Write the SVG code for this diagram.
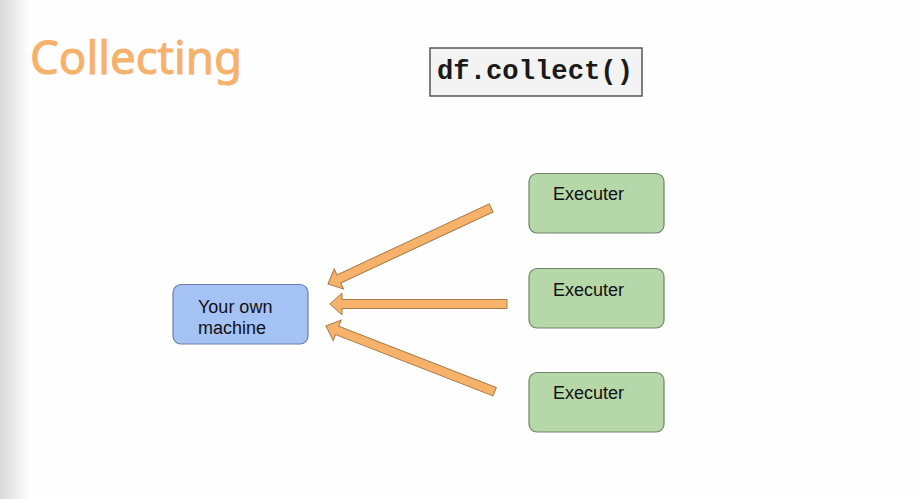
<svg xmlns="http://www.w3.org/2000/svg" width="919" height="499" viewBox="0 0 919 499">
  <defs>
    <linearGradient id="edge" x1="0" y1="0" x2="1" y2="0">
      <stop offset="0" stop-color="#d9d9d9"/>
      <stop offset="1" stop-color="#fefefe"/>
    </linearGradient>
  </defs>
  <style>
    .title { font-family: "Comic Sans MS", "Noto Sans", "DejaVu Sans", sans-serif; font-size: 46px; fill: #f6b26b; stroke: #f6b26b; stroke-width: 1; }
    .code { font-family: "Liberation Mono", "DejaVu Sans Mono", monospace; font-size: 27px; font-weight: bold; fill: #1a1a1a; }
    .label { font-family: "Liberation Sans", Arial, sans-serif; font-size: 18px; fill: #111; }
    .exec { fill: #b6d7a8; stroke: #6f8466; stroke-width: 1.2; }
    .mine { fill: #a4c2f4; stroke: #6b7ea6; stroke-width: 1.2; }
    .arrow { fill: #f6b26b; stroke: #a87a48; stroke-width: 1; stroke-linejoin: miter; }
  </style>
  <rect width="919" height="499" fill="#fefefe"/>
  <rect x="0" y="0" width="30" height="499" fill="url(#edge)"/>

  <g id="title">
    <text class="title" x="30" y="74" textLength="212" lengthAdjust="spacingAndGlyphs">Collecting</text>
  </g>

  <g id="code">
    <rect x="430" y="48" width="212" height="48" fill="#f3f3f3" stroke="#555" stroke-width="1.5"/>
    <text class="code" x="437" y="79" textLength="196" lengthAdjust="spacingAndGlyphs">df.collect()</text>
  </g>

  <g id="machine">
    <rect class="mine" x="173" y="284.5" width="135" height="59.5" rx="8"/>
    <text class="label" x="198" y="313">Your own</text>
    <text class="label" x="198" y="334">machine</text>
  </g>

  <g id="executer1">
    <rect class="exec" x="529" y="173.5" width="135" height="59.5" rx="8"/>
    <text class="label" x="553" y="200">Executer</text>
  </g>
  <g id="executer2">
    <rect class="exec" x="529" y="268.5" width="135" height="59.5" rx="8"/>
    <text class="label" x="553" y="296">Executer</text>
  </g>
  <g id="executer3">
    <rect class="exec" x="529" y="372.5" width="135" height="59.5" rx="8"/>
    <text class="label" x="553" y="399">Executer</text>
  </g>

  <g id="connectors">
    <path class="arrow" transform="translate(328,284) rotate(-25)" d="M0,0 L12,-11 L12,-4.5 L180,-4.5 L180,4.5 L12,4.5 L12,11 Z"/>
    <path class="arrow" transform="translate(330,304)" d="M0,0 L12,-11 L12,-4.5 L177,-4.5 L177,4.5 L12,4.5 L12,11 Z"/>
    <path class="arrow" transform="translate(326,326) rotate(21.3)" d="M0,0 L12,-11 L12,-4.5 L181,-4.5 L181,4.5 L12,4.5 L12,11 Z"/>
  </g>
</svg>
